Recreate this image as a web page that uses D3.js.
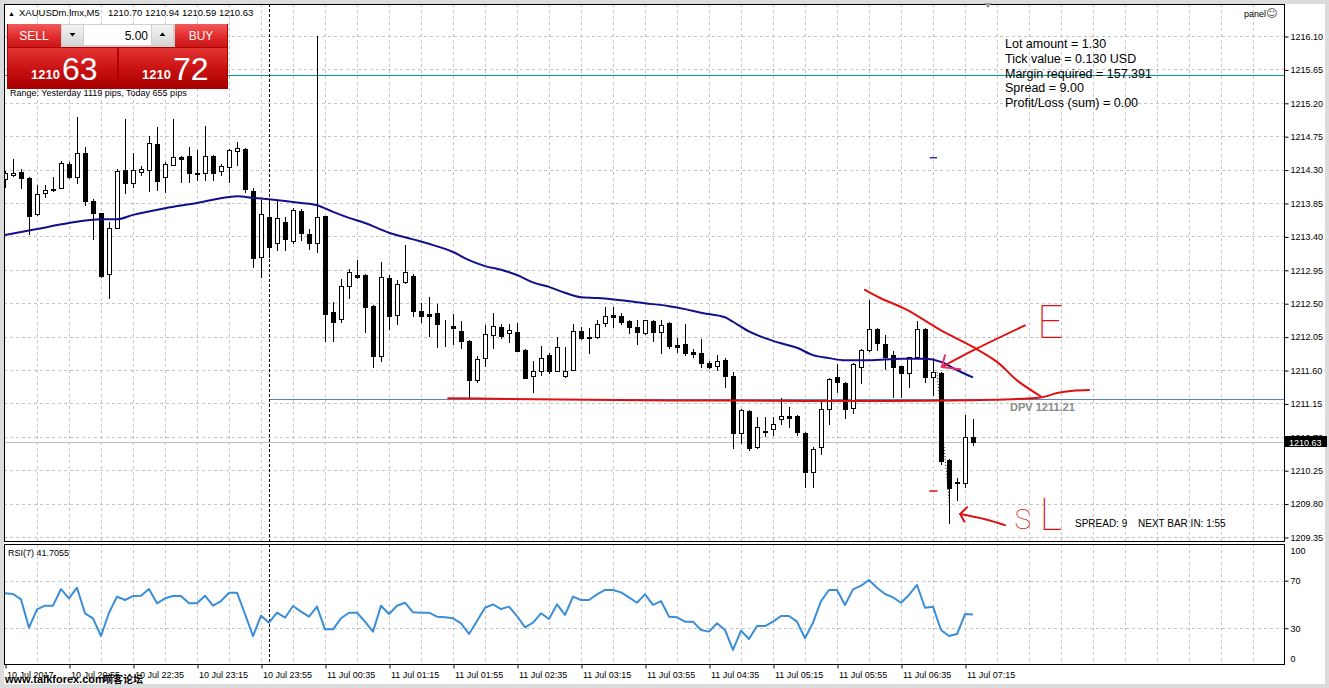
<!DOCTYPE html>
<html><head><meta charset="utf-8">
<script src="https://cdn.jsdelivr.net/npm/d3@7/dist/d3.min.js"></script>
<style>
html,body{margin:0;padding:0;background:#fff;overflow:hidden}
svg{display:block}
</style></head><body>
<svg id="c" width="1329" height="688"></svg>
<script>
// ---------- DATA ----------
const openP=[1214.17,1214.23,1214.27,1214.19,1213.70,1213.98,1214.02,1214.05,1214.38,1214.20,
1214.52,1213.88,1213.72,1212.89,1213.51,1214.29,1214.12,1214.27,1214.29,1214.64,
1214.20,1214.36,1214.47,1214.48,1214.25,1214.25,1214.48,1214.28,1214.33,1214.55,
1214.58,1214.01,1213.12,1213.66,1213.31,1213.59,1213.34,1213.74,1213.43,1213.31,
1213.67,1212.38,1212.29,1212.73,1212.88,1212.88,1212.46,1211.79,1212.84,1212.34,
1212.78,1212.87,1212.39,1212.35,1212.37,1212.21,1212.19,1212.12,1211.99,1211.46,
1211.76,1212.07,1212.18,1212.10,1212.11,1211.87,1211.52,1211.59,1211.80,1211.59,
1211.52,1211.60,1212.12,1212.04,1212.04,1212.23,1212.34,1212.33,1212.26,1212.18,
1212.10,1212.26,1212.11,1212.23,1211.94,1211.95,1211.84,1211.83,1211.69,1211.65,
1211.73,1211.52,1210.75,1211.05,1210.56,1210.78,1210.80,1210.94,1210.98,1210.98,
1210.75,1210.22,1210.56,1211.07,1211.50,1211.43,1211.09,1211.64,1211.87,1212.15,
1211.95,1211.80,1211.65,1211.56,1211.77,1212.15,1211.50,1211.56,1210.39,1210.09,
1210.08,1210.70];
const highP=[1214.28,1214.44,1214.31,1214.20,1214.09,1214.09,1214.20,1214.42,1214.40,1215.01,
1214.60,1213.90,1213.72,1213.59,1214.31,1214.98,1214.52,1214.35,1214.75,1214.87,
1214.40,1214.98,1214.48,1214.60,1214.56,1214.89,1214.49,1214.38,1214.58,1214.67,
1214.59,1214.05,1213.89,1213.88,1213.89,1213.66,1213.78,1213.77,1213.50,1216.10,
1213.68,1212.52,1212.83,1212.96,1213.08,1212.89,1212.47,1213.05,1212.88,1212.81,
1213.28,1212.89,1212.50,1212.58,1212.49,1212.27,1212.35,1212.26,1212.00,1211.79,
1212.20,1212.37,1212.22,1212.22,1212.23,1211.88,1211.72,1211.92,1211.83,1212.04,
1211.91,1212.22,1212.18,1212.16,1212.27,1212.45,1212.45,1212.37,1212.28,1212.27,
1212.28,1212.27,1212.27,1212.24,1212.03,1212.22,1211.88,1212.02,1211.72,1211.80,
1211.76,1211.57,1211.07,1211.06,1210.97,1210.97,1210.97,1211.22,1211.10,1210.99,
1210.76,1210.56,1211.19,1211.49,1211.68,1211.44,1211.69,1211.88,1212.54,1212.16,
1212.07,1211.85,1211.66,1211.78,1212.26,1212.16,1211.76,1211.57,1210.40,1210.14,
1210.99,1210.94];
const lowP=[1214.06,1214.21,1214.05,1213.43,1213.69,1213.93,1214.01,1214.05,1214.19,1214.12,
1213.82,1213.36,1212.85,1212.57,1213.51,1213.98,1214.06,1214.23,1214.01,1214.02,
1214.00,1214.36,1214.13,1214.13,1214.16,1214.16,1214.16,1214.23,1214.13,1214.36,
1214.00,1212.99,1212.85,1213.12,1213.22,1213.22,1213.31,1213.35,1213.23,1213.19,
1211.99,1211.99,1212.25,1212.57,1212.84,1212.11,1211.64,1211.72,1212.15,1212.22,
1212.77,1212.33,1212.25,1212.06,1211.91,1211.92,1211.95,1211.90,1211.22,1211.44,
1211.65,1211.90,1212.03,1211.98,1211.85,1211.49,1211.30,1211.53,1211.56,1211.58,
1211.51,1211.60,1212.02,1211.83,1212.03,1212.19,1212.18,1212.22,1212.10,1211.95,
1212.09,1211.99,1211.83,1211.90,1211.84,1211.80,1211.77,1211.64,1211.63,1211.60,
1211.37,1210.55,1210.61,1210.52,1210.55,1210.71,1210.72,1210.87,1210.83,1210.72,
1210.02,1210.03,1210.47,1210.87,1211.30,1210.95,1211.02,1211.42,1211.86,1211.87,
1211.62,1211.23,1211.23,1211.37,1211.76,1211.44,1211.26,1210.34,1209.54,1209.85,
1210.02,1210.59];
const closeP=[1214.25,1214.26,1214.19,1213.67,1213.97,1214.02,1214.04,1214.39,1214.20,1214.52,
1213.88,1213.71,1212.87,1213.51,1214.28,1214.12,1214.29,1214.31,1214.66,1214.15,
1214.38,1214.47,1214.44,1214.25,1214.24,1214.48,1214.25,1214.35,1214.56,1214.59,
1214.04,1213.11,1213.70,1213.26,1213.65,1213.36,1213.75,1213.45,1213.31,1213.66,
1212.35,1212.25,1212.73,1212.92,1212.85,1212.45,1211.79,1212.85,1212.33,1212.76,
1212.92,1212.39,1212.33,1212.33,1212.22,1212.20,1212.16,1211.99,1211.46,1211.75,
1212.08,1212.19,1212.06,1212.14,1211.85,1211.49,1211.59,1211.76,1211.59,1211.91,
1211.59,1212.12,1212.03,1212.03,1212.22,1212.33,1212.31,1212.25,1212.18,1212.11,
1212.27,1212.11,1212.20,1211.92,1211.91,1211.83,1211.82,1211.69,1211.64,1211.72,
1211.52,1210.75,1211.06,1210.55,1210.83,1210.77,1210.87,1210.98,1210.96,1210.76,
1210.22,1210.53,1211.07,1211.48,1211.44,1211.07,1211.68,1211.87,1212.15,1211.96,
1211.77,1211.64,1211.56,1211.77,1212.15,1211.50,1211.57,1210.37,1210.01,1210.08,
1210.70,1210.63];
const maIndex=[0,4,8,12,14,16,20,24,28,29,31,33,37,39,41,43,45,48,51,53,56,58,60,62,64,66,68,70,72,74,77,80,83,85,87,90,91,93,95,97,99,101,103,105,108,112,115,117,119,121];
const maValue=[1213.42,1213.50,1213.58,1213.63,1213.63,1213.69,1213.78,1213.85,1213.93,1213.94,1213.92,1213.90,1213.85,1213.82,1213.73,1213.65,1213.58,1213.45,1213.36,1213.30,1213.19,1213.08,1213.00,1212.95,1212.88,1212.78,1212.72,1212.64,1212.58,1212.57,1212.54,1212.50,1212.46,1212.42,1212.37,1212.31,1212.25,1212.12,1212.03,1211.96,1211.90,1211.80,1211.76,1211.73,1211.73,1211.75,1211.75,1211.71,1211.60,1211.50];
const rsiValues=[59.4,58.8,54.3,30.5,45.9,49.0,49.0,63.0,55.2,64.1,42.6,38.4,23.5,43.1,56.6,53.8,57.1,57.4,63.0,51.0,
55.2,57.1,57.1,51.0,51.0,57.4,49.0,52.9,59.9,59.9,42.0,23.5,40.6,34.7,43.1,38.9,48.7,44.0,39.8,48.2,
29.1,29.1,38.4,43.1,43.1,35.6,27.2,49.0,42.0,49.0,51.5,43.4,43.1,43.1,39.8,39.2,38.4,34.2,25.2,36.1,
47.3,50.1,46.2,48.2,40.3,30.8,34.7,42.6,37.8,50.1,41.2,56.6,53.8,53.8,58.5,62.2,62.2,60.2,56.0,51.5,
58.5,49.6,52.9,39.8,39.2,35.6,35.6,28.6,27.2,34.2,28.6,11.8,28.0,21.0,31.9,31.9,35.6,40.3,40.3,35.6,
21.6,34.7,52.9,62.2,62.2,49.6,62.7,65.8,70.6,64.1,58.8,56.0,51.5,58.0,66.4,47.3,48.2,28.6,23.5,25.2,
42.0,41.7];
const priceTicks=[1216.10,1215.65,1215.20,1214.75,1214.30,1213.85,1213.40,1212.95,1212.50,1212.05,1211.60,1211.15,1210.70,1210.25,1209.80,1209.35];
const rsiTicks=[100,70,30,0];
const rsiLevels=[70,30];
const timeLabels=["10 Jul 2017","10 Jul 20:55","10 Jul 22:35","10 Jul 23:15","10 Jul 23:55","11 Jul 00:35","11 Jul 01:15","11 Jul 01:55","11 Jul 02:35","11 Jul 03:15","11 Jul 03:55","11 Jul 04:35","11 Jul 05:15","11 Jul 05:55","11 Jul 06:35","11 Jul 07:15"];
const infoLines=["Lot amount = 1.30","Tick value = 0.130 USD","Margin required = 157.391","Spread = 9.00","Profit/Loss (sum) = 0.00"];
const bidPrice=1210.63, askPrice=1210.72, pivotPrice=1211.21, tealPrice=1215.57;

// ---------- LAYOUT ----------
const L=4, R=1284, MT=4, MB=541, RT=544, RB=664;
const svg=d3.select("#c");
const FONT='"Liberation Sans", Arial, sans-serif';
const x=d3.scaleLinear().domain([0,121]).range([5,973]);
const y=d3.scaleLinear().domain([1209.35,1216.10]).range([537,36]);
const yr=d3.scaleLinear().domain([0,100]).range([RB,RT+1]);
const px=v=>Math.round(v)+0.5;

svg.append("rect").attr("width",1329).attr("height",688).attr("fill","#dcdcdc");
svg.append("rect").attr("x",L).attr("y",MT).attr("width",1321).attr("height",680).attr("fill","#fff");

const defs=svg.append("defs");
function grad(id,stops){const g=defs.append("linearGradient").attr("id",id).attr("x1",0).attr("y1",0).attr("x2",0).attr("y2",1);
 stops.forEach(s=>g.append("stop").attr("offset",s[0]).attr("stop-color",s[1]));}
grad("btn",[[0,"#f25a5a"],[0.5,"#e43030"],[1,"#c81414"]]);
grad("pbox",[[0,"#e43434"],[0.55,"#c81010"],[1,"#a80000"]]);
grad("gbtn",[[0,"#f4f4f4"],[1,"#d6d6d6"]]);

const clipM=defs.append("clipPath").attr("id","cm");
clipM.append("rect").attr("x",L).attr("y",MT).attr("width",R-L).attr("height",MB-MT);

// grid
const gridG=svg.append("g").attr("stroke","#c4c4c4").attr("stroke-dasharray","3,3").attr("stroke-width",1);
const vIdx=d3.range(4,160,4);
vIdx.forEach(i=>{
  const xx=px(x(i)); if(xx>=R) return;
  gridG.append("line").attr("x1",xx).attr("x2",xx).attr("y1",MT).attr("y2",MB);
  gridG.append("line").attr("x1",xx).attr("x2",xx).attr("y1",RT).attr("y2",RB);
});
priceTicks.forEach(p=>gridG.append("line").attr("x1",L).attr("x2",R).attr("y1",px(y(p))).attr("y2",px(y(p))));
rsiLevels.forEach(v=>gridG.append("line").attr("x1",L).attr("x2",R).attr("y1",px(yr(v))).attr("y2",px(yr(v))));

// level lines
const main=svg.append("g").attr("clip-path","url(#cm)");
main.append("line").attr("x1",L).attr("x2",R).attr("y1",px(y(tealPrice))).attr("y2",px(y(tealPrice))).attr("stroke","#00999e");
main.append("line").attr("x1",px(x(33))).attr("x2",R).attr("y1",px(y(pivotPrice))).attr("y2",px(y(pivotPrice))).attr("stroke","#5a82b4");
main.append("line").attr("x1",L).attr("x2",R).attr("y1",px(y(bidPrice))).attr("y2",px(y(bidPrice))).attr("stroke","#c0c0c0");

// day separator
svg.append("line").attr("x1",px(x(33))).attr("x2",px(x(33))).attr("y1",MT).attr("y2",RB)
  .attr("stroke","#000").attr("stroke-dasharray","3,2");

// candles
const cg=main.append("g");
openP.forEach((o,i)=>{
  const c=closeP[i], h=highP[i], l=lowP[i];
  const cx=Math.round(x(i));
  cg.append("line").attr("x1",cx+0.5).attr("x2",cx+0.5).attr("y1",Math.round(y(h))).attr("y2",Math.round(y(l))+1).attr("stroke","#000");
  const top=Math.round(y(Math.max(o,c))), bot=Math.round(y(Math.min(o,c)));
  cg.append("rect").attr("x",cx-1.5).attr("y",top+0.5).attr("width",4).attr("height",Math.max(0,bot-top))
    .attr("fill",c>=o?"#fff":"#000").attr("stroke","#000");
});

// MA
main.append("path").datum(maIndex.map((d,k)=>[d,maValue[k]]))
  .attr("d",d3.line().x(d=>x(d[0])).y(d=>y(d[1])).curve(d3.curveMonotoneX))
  .attr("fill","none").attr("stroke","#10108c").attr("stroke-width",2);

// RSI
svg.append("path").datum(rsiValues)
  .attr("d",d3.line().x((d,i)=>x(i)).y(d=>yr(d)))
  .attr("fill","none").attr("stroke","#3a8ed8").attr("stroke-width",2).attr("stroke-linejoin","round");

// borders
svg.append("rect").attr("x",L+0.5).attr("y",MT+0.5).attr("width",R-L).attr("height",MB-MT).attr("fill","none").attr("stroke","#000");
svg.append("rect").attr("x",L+0.5).attr("y",RT+0.5).attr("width",R-L).attr("height",RB-RT).attr("fill","none").attr("stroke","#000");

// price axis
const pa=svg.append("g").attr("transform",`translate(${R+0.5},0.5)`)
 .call(d3.axisRight(y).tickValues(priceTicks).tickSize(4).tickPadding(2).tickFormat(d3.format(".2f")));
pa.select(".domain").remove();
pa.attr("font-family",FONT).attr("font-size",9);
pa.selectAll("text").attr("fill","#000");
// rsi axis
const ra=svg.append("g").attr("transform",`translate(${R+0.5},0)`)
 .call(d3.axisRight(yr).tickValues(rsiTicks).tickSize(4).tickPadding(2));
ra.select(".domain").remove();
ra.attr("font-family",FONT).attr("font-size",9);
ra.selectAll(".tick").filter(d=>d===100||d===0).select("line").remove();
ra.selectAll(".tick text").attr("dy",d=>d===100?"0.95em":d===0?"-0.3em":"0.32em");
// time axis
const tIdx=timeLabels.map((t,k)=>k*8);
const ta=svg.append("g").attr("transform",`translate(0.5,${RB+0.5})`)
 .call(d3.axisBottom(x).tickValues(tIdx).tickSize(4).tickPadding(2).tickFormat((d,k)=>timeLabels[k]));
ta.select(".domain").remove();
ta.attr("font-family",FONT).attr("font-size",9);
ta.selectAll(".tick text").attr("text-anchor","start").attr("x",1).attr("dy","0.8em");

// current price box
svg.append("rect").attr("x",R+1).attr("y",Math.round(y(bidPrice))-6).attr("width",42).attr("height",11).attr("fill","#000");
svg.append("text").attr("x",R+5).attr("y",Math.round(y(bidPrice))+3.5).attr("fill","#fff")
  .attr("font-family",FONT).attr("font-size",9).text(bidPrice.toFixed(2));

// header
const T=(xx,yy,s,sz,extra)=>{const t=svg.append("text").attr("x",xx).attr("y",yy).attr("font-family",FONT).attr("font-size",sz).attr("fill","#000").text(s);if(extra)extra(t);return t;};
T(8,16,"▲",7);
T(19,16,"XAUUSDm.lmx,M5",9.5);
T(108,16,`${openP[121].toFixed(2)} ${highP[121].toFixed(2)} ${lowP[121].toFixed(2)} ${closeP[121].toFixed(2)}`,9.5);
T(1244,17,"panel",9);
T(1266,17,"☺",11,t=>t.attr("font-family","DejaVu Sans").attr("fill","#444"));
svg.append("path").attr("d","M984,3 L992,3 L988,8 Z").attr("fill","#9a9a9a");

// trade panel
const P=svg.append("g");
P.append("rect").attr("x",7).attr("y",24).attr("width",221).attr("height",65).attr("fill","#b00000");
P.append("rect").attr("x",8).attr("y",24).attr("width",53).attr("height",23).attr("fill","url(#btn)");
P.append("rect").attr("x",175).attr("y",24).attr("width",52).attr("height",23).attr("fill","url(#btn)");
P.append("rect").attr("x",61).attr("y",24).attr("width",114).attr("height",23).attr("fill","#cfcfcf");
P.append("rect").attr("x",62).attr("y",25).attr("width",21).attr("height",20).attr("fill","url(#gbtn)");
P.append("rect").attr("x",152).attr("y",25).attr("width",21).attr("height",20).attr("fill","url(#gbtn)");
P.append("rect").attr("x",84).attr("y",25).attr("width",67).attr("height",20).attr("fill","#fff");
P.append("path").attr("d","M69.5,33 L75.5,33 L72.5,36.5 Z").attr("fill","#000");
P.append("path").attr("d","M159.5,36 L165.5,36 L162.5,32.5 Z").attr("fill","#000");
P.append("rect").attr("x",8).attr("y",48).attr("width",109).attr("height",40).attr("fill","url(#pbox)");
P.append("rect").attr("x",119).attr("y",48).attr("width",108).attr("height",40).attr("fill","url(#pbox)");
P.append("text").attr("x",34).attr("y",40).attr("text-anchor","middle").attr("font-family",FONT).attr("font-size",12).attr("fill","#fff").text("SELL");
P.append("text").attr("x",201).attr("y",40).attr("text-anchor","middle").attr("font-family",FONT).attr("font-size",12).attr("fill","#fff").text("BUY");
P.append("text").attr("x",148).attr("y",40).attr("text-anchor","end").attr("font-family",FONT).attr("font-size",12).attr("fill","#000").text("5.00");
const big=(x0,y0,small,large)=>{
  P.append("text").attr("x",x0).attr("y",y0).attr("font-family",FONT).attr("font-size",13).attr("font-weight","bold").attr("fill","#fff").text(small);
  P.append("text").attr("x",x0+31).attr("y",y0+1).attr("font-family",FONT).attr("font-size",32).attr("fill","#fff").text(large);
};
const bs=bidPrice.toFixed(2).split("."), as=askPrice.toFixed(2).split(".");
big(31,79,bs[0],bs[1]);
big(142,79,as[0],as[1]);
T(10,96,"Range: Yesterday 1119 pips, Today 655 pips",9);

// info
infoLines.forEach((s,k)=>T(1005,48+k*14.8,s,12.5));

// DPV label & spread
T(1010,411,"DPV "+pivotPrice.toFixed(2),11,t=>t.attr("font-weight","bold").attr("fill","#8a8a8a"));
T(1075,527,"SPREAD: 9",10);
T(1138,527,"NEXT BAR IN: 1:55",10);
T(8,556,"RSI(7) "+"41.7055",9);

// watermark
T(5,683,"www.talkforex.com",11,t=>t.attr("font-weight","bold"));
T(103,683,"嘀客论坛",10,t=>t.attr("font-family","Noto Sans CJK SC").attr("font-weight","bold"));

// hand annotations (data coords: bar index, price)
const red="#e01010";
const ln=d3.line().x(d=>x(d[0])).y(d=>y(d[1]));
const lnC=d3.line().x(d=>x(d[0])).y(d=>y(d[1])).curve(d3.curveCatmullRom);
const A=svg.append("g").attr("fill","none").attr("stroke",red).attr("stroke-width",2).attr("stroke-linecap","round").attr("stroke-linejoin","round");
A.append("path").attr("d",lnC([[55.4,1211.22],[129.4,1211.23],[131.5,1211.29],[133.5,1211.32],[135.5,1211.33]]));
A.append("path").attr("d",lnC([[107.5,1212.68],[109.4,1212.57],[112.75,1212.41],[116.9,1212.14],[121,1211.91],[124,1211.71],[126.5,1211.46],[129.4,1211.25]]));
A.append("path").attr("d",lnC([[127.5,1212.20],[121.5,1211.89],[117.1,1211.64]]));
A.append("path").attr("d",ln([[117.5,1211.80],[117.1,1211.64],[119.4,1211.61]])).attr("stroke","#e8306a");
A.append("path").attr("d",lnC([[125,1209.51],[122.5,1209.59],[119.4,1209.66]]));
A.append("path").attr("d",ln([[120.25,1209.75],[119.4,1209.66],[119.9,1209.56]]));
A.append("path").attr("d",ln([[115.6,1209.97],[116.5,1209.97]])).attr("stroke-width",1.5);
svg.append("path").attr("d",ln([[115.6,1214.46],[116.5,1214.46]])).attr("stroke","#2828c8").attr("stroke-width",1.5);
svg.append("path").attr("d",ln([[116.5,1211.57],[118.1,1209.74]])).attr("stroke","#000").attr("stroke-dasharray","1,2");
svg.append("text").attr("x",x(129)).attr("y",y(1212.03)).attr("font-family","Roboto, sans-serif").attr("font-weight",100)
  .attr("font-size",46).attr("fill",red).text("E");
svg.append("text").attr("x",x(126.2)).attr("y",y(1209.46)).attr("font-family","Roboto, sans-serif").attr("font-weight",100)
  .attr("font-size",28).attr("fill",red).text("S");
svg.append("text").attr("x",x(129.3)).attr("y",y(1209.45)).attr("font-family","Roboto, sans-serif").attr("font-weight",100)
  .attr("font-size",44).attr("fill",red).text("L");
</script></body></html>
